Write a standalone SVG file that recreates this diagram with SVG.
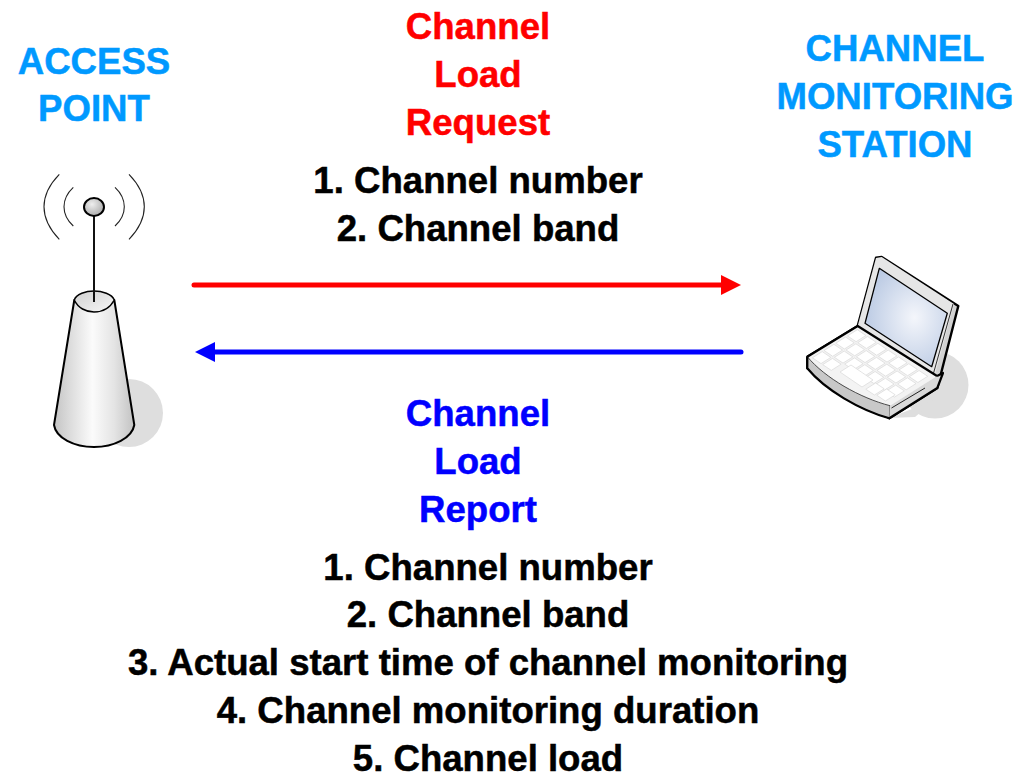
<svg xmlns="http://www.w3.org/2000/svg" width="1029" height="773" viewBox="0 0 1029 773">
<style>
text{font-family:"Liberation Sans",Arial,sans-serif;font-weight:bold;font-size:36.6px;text-anchor:middle;stroke-width:.5px}
.k{fill:#000;stroke:#000}.r{fill:#f00;stroke:#f00}.b{fill:#00f;stroke:#00f}.c{fill:#0099ff;stroke:#0099ff}
.wave{fill:none;stroke:#222;stroke-width:1.1}
.ol{stroke:#000;stroke-linejoin:round}
</style>
<defs>
<linearGradient id="cone" x1="0" x2="1" y1="0" y2="0">
<stop offset="0" stop-color="#c4c4c4"/><stop offset=".2" stop-color="#dcdcdc"/><stop offset=".48" stop-color="#fbfbfb"/><stop offset=".75" stop-color="#e4e4e4"/><stop offset="1" stop-color="#c2c2c2"/>
</linearGradient>
<radialGradient id="ball" cx=".4" cy=".35" r=".7"><stop offset="0" stop-color="#eee"/><stop offset="1" stop-color="#a8a8a8"/></radialGradient>
<linearGradient id="top" x1="0" x2="1" y1="0" y2="1"><stop offset="0" stop-color="#d0d0d0"/><stop offset="1" stop-color="#f8f8f8"/></linearGradient>
<radialGradient id="screen" cx=".6" cy=".5" r=".6"><stop offset="0" stop-color="#f4f6fb"/><stop offset="1" stop-color="#bccbe4"/></radialGradient>
<polygon id="key" points="0.6,-6 9.2,-0.2 -0.6,6 -9.2,0.2" fill="#fff" stroke="#d8d8d8" stroke-width=".7"/>
</defs>
<rect width="1029" height="773" fill="#fff"/>
<g id="access-point">
<circle cx="129" cy="413" r="34" fill="#dedede"/>
<path class="wave" d="M59.3 174.3Q44 190 44 206.7T59.3 239.3M73.3 187.3Q64 196 64 206.7T73.3 226M129 174.3Q144.3 190 144.3 206.7T129 239.3M115 187.3Q124.3 196 124.3 206.7T115 226"/>
<path class="ol" d="M74.3 300L54 425C56 438 74 447 94 447S132 438 134.3 425L114.3 300Z" fill="url(#cone)" stroke-width="2"/>
<path class="ol" d="M74.3 300C76 294 86 291 94 291S112 294 114.3 300C110 308 102 312 94 312S78 308 74.3 300Z" fill="url(#top)" stroke-width="1.5"/>
<path d="M94 216V302" stroke="#111" stroke-width="2" fill="none"/>
<ellipse class="ol" cx="94" cy="207" rx="10" ry="9" fill="url(#ball)" stroke-width="2"/>
</g>
<g id="laptop">
<circle cx="935" cy="385" r="33.5" fill="#dedede"/>
<path d="M889 418L935 400 915 417Z" fill="#dedede"/>
<path class="ol" d="M857.7 326L876 257.7 881.7 257 958.3 306 937.3 388 889.3 418.3 807.3 368.3V356.7Z" fill="#d2d2d2" stroke-width="2.4"/>
<path d="M857.7 326L876 258 881.7 257 954 304 934 378Z" fill="#e6e6e6"/>
<path d="M953 304L933 375" stroke="#333" stroke-width="1"/>
<path class="ol" d="M879.3 268.3L947.3 313.3 931.7 366.7 865 323.3Z" fill="url(#screen)" stroke-width="1.3"/>
<path d="M807.3 356.7L857.7 326 937 376 943 373 937.3 388 889.3 418.3C860 410 825 390 807.3 368.3Z" fill="#fff"/>
<path d="M807.3 356.7L857.7 326 937 376 890 405.7C860 398 825 378 807.3 356.7Z" fill="#f3f3f3"/>
<path d="M807.3 356.7C825 378 860 398 890 405.7L889.3 418.3C860 410 825 390 807.3 368.3Z" fill="#c8c8c8" stroke="#222" stroke-width=".8"/>
<path d="M890 405.7L937 376 943 373 937.3 388 889.3 418.3Z" fill="#d9d9d9"/>
<path d="M891.5 408L925 388" stroke="#222" stroke-width="1" fill="none"/>
<path d="M807.3 356.7L857.7 326 937 376M937 376L943 373 937.3 388 889.3 418.3C860 410 825 390 807.3 368.3V356.7" fill="none" stroke="#000" stroke-width="2.2" stroke-linejoin="round"/>
<use href="#key" x="856.7" y="335.7"/><use href="#key" x="867" y="342.5"/><use href="#key" x="877.3" y="349.3"/><use href="#key" x="887.6" y="356.1"/><use href="#key" x="897.9" y="362.9"/><use href="#key" x="908.2" y="369.7"/><use href="#key" x="918.5" y="376.5"/>
<use href="#key" x="845" y="343"/><use href="#key" x="855.3" y="349.8"/><use href="#key" x="865.6" y="356.6"/><use href="#key" x="875.9" y="363.4"/><use href="#key" x="886.2" y="370.2"/><use href="#key" x="896.5" y="377"/><use href="#key" x="906.8" y="383.8"/>
<use href="#key" x="833.3" y="350.3"/><use href="#key" x="843.6" y="357.1"/><use href="#key" x="853.9" y="363.9"/><use href="#key" x="864.2" y="370.7"/><use href="#key" x="874.5" y="377.5"/><use href="#key" x="884.8" y="384.3"/><use href="#key" x="895.1" y="391.1"/>
<use href="#key" x="821.6" y="357.6"/><use href="#key" x="831.9" y="364.4"/><use href="#key" x="875" y="389"/><use href="#key" x="886" y="395"/>
<polygon points="851,365 873,380 862,387 840,372" fill="#fff" stroke="#d8d8d8" stroke-width=".7"/>
</g>
<g id="ap-label"><text class="c" x="94" y="73.5">ACCESS</text><text class="c" x="94" y="120.5">POINT</text></g>
<g id="station-label"><text class="c" x="895" y="60.5">CHANNEL</text><text class="c" x="895" y="108.5">MONITORING</text><text class="c" x="895" y="156.5">STATION</text></g>
<g id="request"><text class="r" x="478" y="38.5">Channel</text><text class="r" x="478" y="86.5">Load</text><text class="r" x="478" y="135">Request</text>
<text class="k" x="478" y="193">1. Channel number</text><text class="k" x="478" y="241">2. Channel band</text></g>
<g id="report"><text class="b" x="478" y="425.5">Channel</text><text class="b" x="478" y="473.5">Load</text><text class="b" x="478" y="521.5">Report</text>
<text class="k" x="488" y="579.5">1. Channel number</text><text class="k" x="488" y="626.5">2. Channel band</text><text class="k" x="488" y="674.5">3. Actual start time of channel monitoring</text><text class="k" x="488" y="722.5">4. Channel monitoring duration</text><text class="k" x="488" y="770.5">5. Channel load</text></g>
<g id="connectors" stroke-width="5" stroke-linecap="round">
<path d="M194 285H724" stroke="#f00"/><path d="M741 285L721 275V295Z" fill="#f00"/>
<path d="M741 352H212" stroke="#00f"/><path d="M195 352L215 342V362Z" fill="#00f"/>
</g>
</svg>
